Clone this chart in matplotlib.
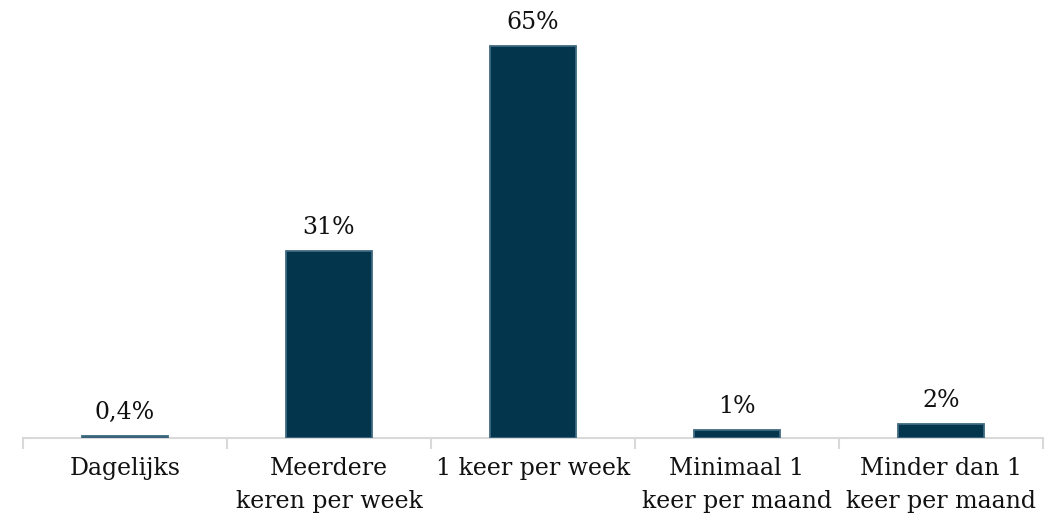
import matplotlib
matplotlib.use("Agg")
import matplotlib.pyplot as plt

categories = ["Dagelijks", "Meerdere\nkeren per week", "1 keer per week",
              "Minimaal 1\nkeer per maand", "Minder dan 1\nkeer per maand"]
values = [0.4, 31, 65, 1.3, 2.3]
labels = ["0,4%", "31%", "65%", "1%", "2%"]

bar_color = "#03354d"
plt.rcParams['font.family'] = ['DejaVu Serif']

fig = plt.figure(figsize=(10.61, 5.25), dpi=100)
ax = fig.add_axes([23/1061, 87/525, 1020/1061, 438/525])

x = list(range(len(categories)))
bars = ax.bar(x, values, width=0.42, color=bar_color, edgecolor="#3f6a80",
              linewidth=1.3, zorder=3)

ax.set_xlim(-0.5, len(categories) - 0.5)
ax.set_ylim(0, 65 * 438 / 392)

for xi, v, lab in zip(x, values, labels):
    ax.annotate(lab, (xi, v), xytext=(0, 8.5), textcoords="offset points",
                ha="center", va="bottom", fontsize=17, color="#111111")

for s in ["top", "right", "left"]:
    ax.spines[s].set_visible(False)
ax.spines["bottom"].set_color("#d9d9d9")
ax.spines["bottom"].set_linewidth(1.5)
ax.set_yticks([])
ax.set_xticks(x)
ax.set_xticklabels(categories, fontsize=17, color="#111111", linespacing=1.55)
ax.tick_params(axis="x", which="major", length=0, pad=14)
ax.set_xticks([i - 0.5 for i in range(len(categories) + 1)], minor=True)
ax.tick_params(axis="x", which="minor", length=8, width=1.5, color="#d9d9d9")

fig.savefig("out.png", dpi=100)
